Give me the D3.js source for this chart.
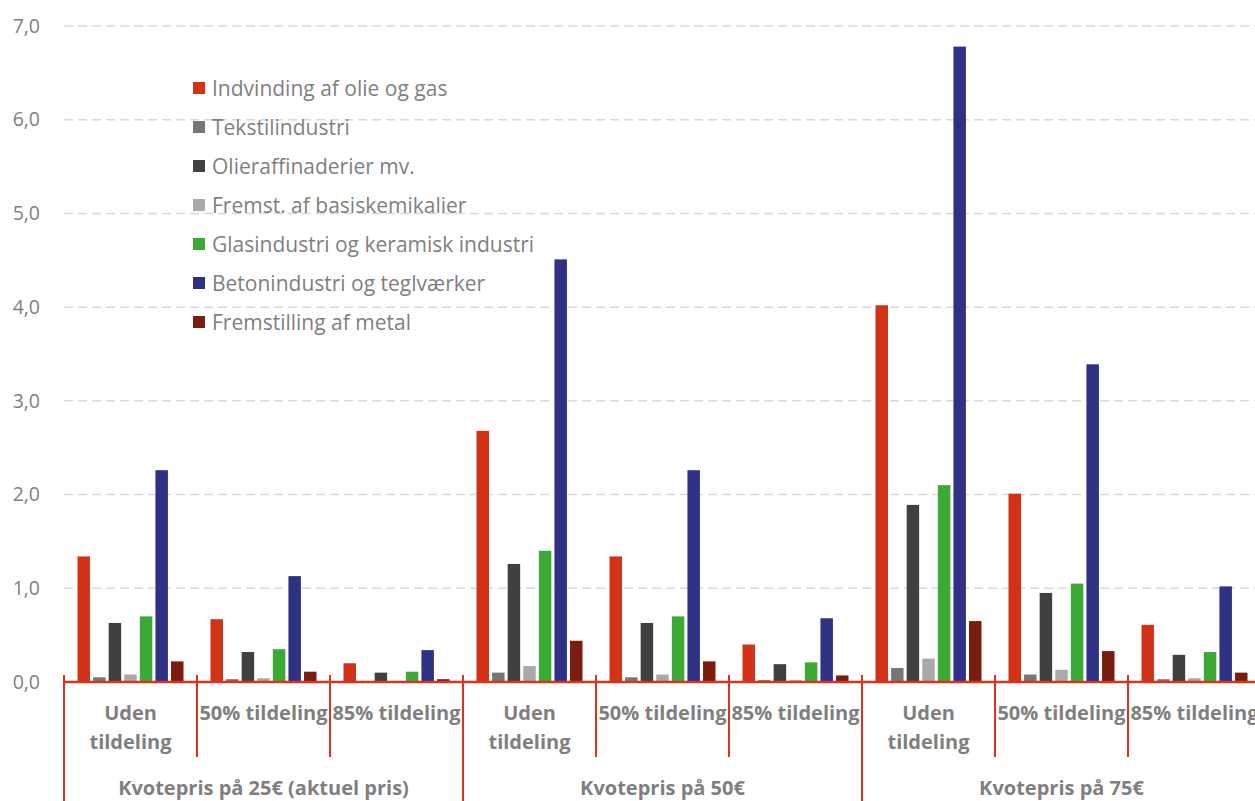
<!DOCTYPE html>
<html><head><meta charset="utf-8">
<script src="https://cdn.jsdelivr.net/npm/d3@7/dist/d3.min.js"></script>
<style>body{margin:0;background:#fff}svg{display:block}text{font-family:"Open Sans",Lato,sans-serif}</style>
</head><body><svg id="c" width="1255" height="801"></svg>
<script>
const series = ["Indvinding af olie og gas","Tekstilindustri","Olieraffinaderier mv.","Fremst. af basiskemikalier","Glasindustri og keramisk industri","Betonindustri og teglværker","Fremstilling af metal"];
const colors = ["#D13218","#767676","#404040","#A9A9A9","#3AAA35","#2E3184","#7B1C10"];
const groups = ["Kvotepris på 25€ (aktuel pris)","Kvotepris på 50€","Kvotepris på 75€"];
const subcats = [["Uden","tildeling"],["50% tildeling"],["85% tildeling"]];
const yTicks = [0,1,2,3,4,5,6,7];
// values per category (9 categories: group x subcat), per series
const olieGas   = [1.34,0.67,0.20, 2.68,1.34,0.40, 4.02,2.01,0.61];
const tekstil   = [0.05,0.03,0.01, 0.10,0.05,0.02, 0.15,0.08,0.03];
const raffin    = [0.63,0.32,0.10, 1.26,0.63,0.19, 1.89,0.95,0.29];
const kemi      = [0.08,0.04,0.01, 0.17,0.08,0.02, 0.25,0.13,0.04];
const glas      = [0.70,0.35,0.11, 1.40,0.70,0.21, 2.10,1.05,0.32];
const beton     = [2.26,1.13,0.34, 4.51,2.26,0.68, 6.78,3.39,1.02];
const metal     = [0.22,0.11,0.03, 0.44,0.22,0.07, 0.65,0.33,0.10];
const values = [olieGas,tekstil,raffin,kemi,glas,beton,metal];

const svg = d3.select("#c");
const x0 = 64, x1 = 1261, yBase = 682, yTop = 26;
const y = d3.scaleLinear().domain([0,7]).range([yBase,yTop]);
const cats = d3.range(9);
const xc = d3.scaleBand().domain(cats).range([x0,x1]).padding(0);
const bw = xc.bandwidth();
const xs = d3.scaleBand().domain(d3.range(7)).range([13.5,bw-13.5]).paddingInner(0.2);
const grey = "#7f7f7f";
const font = "'Open Sans',Lato,sans-serif";

// gridlines
svg.append("g").selectAll("line").data(yTicks.filter(d=>d>0)).join("line")
  .attr("x1",x0).attr("x2",1255).attr("y1",d=>y(d)).attr("y2",d=>y(d))
  .attr("stroke","#d9d9d9").attr("stroke-width",1.5).attr("stroke-dasharray","9,5");
// y labels
const ya = svg.append("g").attr("transform","translate(43,0)")
  .call(d3.axisLeft(y).tickValues(yTicks).tickSize(0).tickFormat(d=>d3.format(".1f")(d).replace(".",",")));
ya.select(".domain").remove();
ya.selectAll("text").attr("font-size",19.5).attr("fill",grey).attr("font-family",font).attr("dx",0);

// bars
const gb = svg.append("g");
values.forEach((vals,si)=>{
  gb.append("g").selectAll("rect").data(vals).join("rect")
    .attr("x",(d,i)=>xc(i)+xs(si)).attr("width",xs.bandwidth())
    .attr("y",d=>y(d)).attr("height",d=>yBase-y(d)).attr("fill",colors[si]);
});

// x axis line and ticks
const red = "#D9351E";
svg.append("line").attr("x1",x0).attr("x2",1255).attr("y1",yBase).attr("y2",yBase).attr("stroke",red).attr("stroke-width",2.5);
d3.range(10).forEach(i=>{
  const xx = x0 + i*bw;
  const isGroup = i%3===0;
  svg.append("line").attr("x1",xx).attr("x2",xx).attr("y1",yBase-7).attr("y2",isGroup?801:757)
    .attr("stroke",red).attr("stroke-width",2);
});
// subcategory labels
cats.forEach(i=>{
  const lines = subcats[i%3];
  const cx = xc(i)+bw/2;
  const t = svg.append("text").attr("x",cx).attr("text-anchor","middle").attr("font-size",20)
    .attr("font-weight","bold").attr("fill",grey);
  if(lines.length===2){
    t.append("tspan").attr("x",cx).attr("y",720).text(lines[0]);
    t.append("tspan").attr("x",cx).attr("y",749).text(lines[1]);
  } else {
    t.attr("y",720).text(lines[0]);
  }
});
// group labels
groups.forEach((g,gi)=>{
  svg.append("text").attr("x",x0+gi*3*bw+1.5*bw).attr("y",795).attr("text-anchor","middle")
    .attr("font-size",20).attr("font-weight","bold").attr("fill",grey).text(g);
});

// legend
const lg = svg.append("g");
series.forEach((s,i)=>{
  const yy = 88 + i*39;
  lg.append("rect").attr("x",193).attr("y",yy-6).attr("width",12).attr("height",12).attr("fill",colors[i]);
  lg.append("text").attr("x",212).attr("y",yy+7.5).attr("font-size",21).attr("fill",grey).text(s);
});
</script></body></html>
